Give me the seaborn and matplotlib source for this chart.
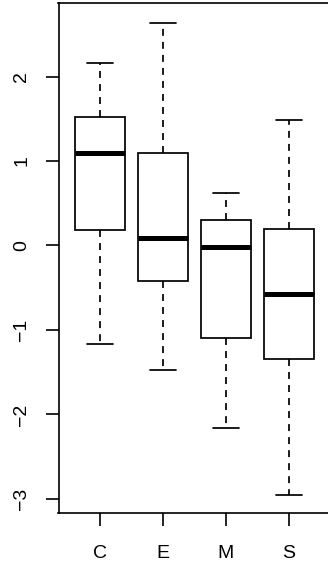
import pandas as pd
import matplotlib
matplotlib.use("Agg")
import matplotlib.pyplot as plt
import seaborn as sns

# five-number summaries per group: min, q1, median, q3, max
groups = ["C", "E", "M", "S"]
c_vals = [-1.17, 0.18, 1.10, 1.52, 2.16]
e_vals = [-1.47, -0.42, 0.09, 1.10, 2.63]
m_vals = [-2.16, -1.09, -0.02, 0.30, 0.62]
s_vals = [-2.95, -1.34, -0.58, 0.19, 1.49]
y_ticks = [-3, -2, -1, 0, 1, 2]

rows = []
for g, vals in zip(groups, [c_vals, e_vals, m_vals, s_vals]):
    for v in vals:
        rows.append({"group": g, "value": v})
df = pd.DataFrame(rows)

sns.set_style("ticks")
plt.rcParams["font.family"] = ["Liberation Sans", "DejaVu Sans"]

fig = plt.figure(figsize=(3.28, 5.68), dpi=100)
# axes box runs slightly past the right edge, like the cropped original
ax = fig.add_axes([58.5 / 328, (568 - 513.3) / 568, (330.5 - 58.5) / 328, (513.3 - 3) / 568])

lw = 1.25
sns.boxplot(data=df, x="group", y="value", order=groups, ax=ax,
            whis=(0, 100), width=0.8, fliersize=0, color="white",
            linecolor="black", linewidth=lw,
            boxprops=dict(facecolor="white", edgecolor="black", linewidth=lw),
            medianprops=dict(color="black", linewidth=3.6, solid_capstyle="butt"),
            whiskerprops=dict(color="black", linewidth=lw, linestyle=(0, (4, 3.5))),
            capprops=dict(color="black", linewidth=lw))

ax.set_xlim(-0.66, 3.66)
ax.set_ylim(-3.17, 2.87)
ax.set_yticks(y_ticks)
ax.set_yticklabels([str(t).replace("-", "\u2212") for t in y_ticks], rotation=90, va="center")
ax.set_xlabel("")
ax.set_ylabel("")
for s in ax.spines.values():
    s.set_visible(True)
    s.set_linewidth(1.2)
    s.set_color("black")
ax.tick_params(axis="both", length=9.5, width=1.2, labelsize=14, colors="black")
ax.tick_params(axis="x", pad=13)
ax.tick_params(axis="y", pad=11)

fig.savefig("out.png", dpi=100)
